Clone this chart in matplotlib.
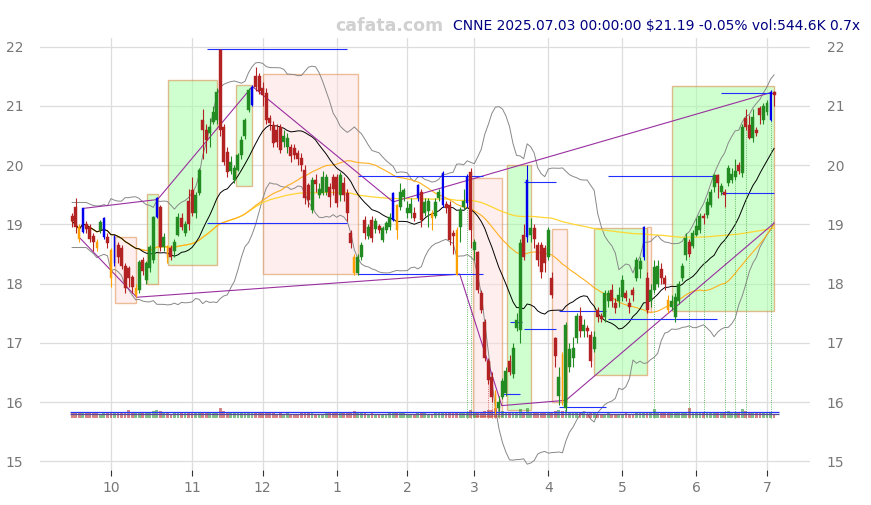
import numpy as np
import pandas as pd
import matplotlib
matplotlib.use("Agg")
import matplotlib.pyplot as plt
from matplotlib.patches import Rectangle

# daily candles, CNNE, 2024-09-16 .. 2025-07-03 (index = trading day)
opens = [19.15, 19.3, 18.95, 18.88, 19.0, 18.95, 18.8, 18.7, 18.9, 18.78,
         18.78, 18.56, 18.35, 18.65, 18.6, 18.3, 18.26, 18.12, 17.8, 17.9,
         18.4, 18.06, 18.26, 18.4, 19.12, 19.3, 18.62, 18.62, 18.6, 18.55,
         18.82, 19.1, 18.85, 19.4, 19.58, 19.2, 19.53, 20.76, 20.6, 20.55,
         20.73, 20.76, 21.95, 20.65, 20.22, 19.9, 19.75, 19.92, 20.17, 20.5,
         20.93, 21.02, 21.5, 21.5, 21.3, 21.22, 20.8, 20.68, 20.6, 20.65,
         20.4, 20.31, 20.3, 20.29, 20.2, 20.12, 19.92, 19.66, 19.24, 19.75,
         19.5, 19.53, 19.55, 19.63, 19.8, 19.8, 19.5, 19.7, 19.53, 18.85,
         18.45, 18.18, 18.45, 19.07, 18.8, 19.07, 18.92, 18.97, 18.73, 18.9,
         18.95, 19.07, 19.32, 19.3, 19.46, 19.19, 19.2, 19.2, 19.44, 19.55,
         19.2, 19.22, 19.2, 19.15, 19.45, 19.32, 19.35, 19.32, 18.85, 18.9,
         18.95, 19.3, 19.36, 19.88, 18.56, 18.53, 17.85, 17.35, 16.7, 16.42,
         16.15, 15.9, 16.08, 16.15, 16.7, 16.48, 17.25, 17.21, 18.82, 18.79,
         18.82, 18.94, 18.65, 18.65, 18.6, 18.45, 18.09, 17.09, 16.1, 16.8,
         15.9, 16.6, 16.74, 17.09, 17.45, 17.2, 17.25, 17.13, 16.9, 17.55,
         17.45, 17.43, 17.7, 17.9, 17.67, 17.7, 17.77, 17.85, 17.68, 17.9,
         18.1, 18.24, 18.45, 18.1, 17.7, 17.9, 18.0, 18.25, 18.1, 17.72,
         17.6, 17.43, 17.7, 18.1, 18.48, 18.7, 18.63, 18.82, 18.9, 19.15,
         19.16, 19.33, 19.63, 19.83, 19.55, 19.55, 19.7, 19.75, 19.8, 20.0,
         19.87, 20.8, 20.68, 20.46, 20.6, 20.97, 20.76, 20.9, 20.76, 21.24]
closes = [19.05, 18.95, 18.75, 19.27, 18.93, 18.75, 18.7, 18.6, 19.04, 19.1,
          18.68, 18.1, 18.8, 18.45, 18.3, 17.92, 18.1, 17.94, 17.92, 18.36,
          18.22, 18.34, 18.62, 19.12, 19.44, 18.62, 18.78, 18.43, 18.45, 18.7,
          19.12, 18.95, 19.0, 19.0, 19.2, 19.5, 19.92, 20.6, 20.43, 20.65,
          20.9, 21.24, 20.6, 20.05, 19.88, 20.05, 19.95, 20.17, 20.43, 20.76,
          21.27, 21.32, 21.32, 21.25, 21.19, 20.76, 20.71, 20.38, 20.4, 20.26,
          20.5, 20.46, 20.15, 20.17, 20.1, 20.0, 19.44, 19.41, 19.75, 19.68,
          19.6, 19.8, 19.8, 19.46, 19.6, 19.36, 19.83, 19.5, 19.19, 18.68,
          18.18, 18.45, 18.65, 18.85, 18.96, 18.77, 19.05, 18.9, 18.94, 19.02,
          19.12, 19.53, 18.9, 19.55, 19.58, 19.27, 19.35, 19.1, 19.66, 19.07,
          19.38, 19.4, 19.1, 19.38, 19.55, 19.87, 19.27, 18.73, 18.8, 18.15,
          19.24, 19.4, 19.8, 18.9, 18.7, 17.9, 17.55, 16.75, 16.37, 16.08,
          15.86, 16.0, 16.36, 16.53, 16.5, 16.92, 17.38, 18.68, 18.45, 19.75,
          18.94, 18.75, 18.4, 18.2, 18.35, 18.9, 17.8, 16.78, 16.42, 16.0,
          17.3, 16.9, 16.92, 17.46, 17.2, 17.3, 17.2, 16.7, 17.1, 17.43,
          17.4, 17.84, 17.85, 17.7, 17.58, 17.8, 18.06, 17.75, 17.6, 17.8,
          18.4, 18.38, 18.95, 17.55, 17.9, 18.28, 18.3, 18.1, 18.0, 17.55,
          17.7, 17.77, 18.0, 18.3, 18.77, 18.5, 18.85, 18.98, 19.15, 19.1,
          19.38, 19.55, 19.83, 19.7, 19.65, 19.5, 19.95, 19.85, 19.9, 19.9,
          20.65, 20.65, 20.46, 20.82, 20.55, 20.85, 21.0, 21.05, 21.24, 21.19]
highs = [19.2, 19.45, 19.0, 19.28, 19.05, 19.0, 18.85, 18.75, 19.08, 19.12,
         18.85, 18.6, 18.82, 18.7, 18.65, 18.35, 18.3, 18.15, 18.0, 18.4,
         18.45, 18.38, 18.65, 19.15, 19.46, 19.32, 18.85, 18.65, 18.65, 18.75,
         19.2, 19.2, 19.05, 19.6, 19.8, 19.55, 19.95, 20.95, 20.7, 20.8,
         21.0, 21.3, 21.97, 20.7, 20.3, 20.15, 20.0, 20.2, 20.5, 20.8,
         21.3, 21.35, 21.65, 21.55, 21.4, 21.3, 20.85, 20.75, 20.7, 20.7,
         20.6, 20.55, 20.35, 20.35, 20.25, 20.2, 20.0, 19.7, 19.8, 19.85,
         19.7, 19.9, 19.85, 19.7, 19.85, 19.85, 19.88, 19.8, 19.6, 18.9,
         18.5, 18.5, 18.7, 19.15, 19.0, 19.15, 19.1, 19.0, 18.98, 19.05,
         19.2, 19.55, 19.35, 19.7, 19.62, 19.4, 19.45, 19.3, 19.68, 19.6,
         19.45, 19.45, 19.25, 19.45, 19.6, 19.9, 19.4, 19.4, 18.9, 18.95,
         19.3, 19.6, 19.85, 19.95, 18.75, 18.55, 17.9, 17.4, 16.75, 16.5,
         16.2, 16.1, 16.4, 16.6, 16.8, 17.0, 17.5, 18.75, 19.0, 20.0,
         19.1, 19.0, 18.7, 18.7, 18.65, 18.95, 18.2, 17.1, 16.6, 16.85,
         17.35, 17.0, 17.1, 17.5, 17.6, 17.4, 17.3, 17.2, 17.2, 17.6,
         17.5, 17.9, 17.9, 18.0, 17.75, 17.95, 18.15, 17.9, 17.75, 17.95,
         18.45, 18.45, 18.97, 18.2, 18.0, 18.4, 18.4, 18.35, 18.15, 17.8,
         17.8, 17.85, 18.05, 18.35, 18.85, 18.75, 18.9, 19.1, 19.2, 19.2,
         19.45, 19.6, 19.85, 19.85, 19.7, 19.6, 20.0, 19.95, 20.1, 20.05,
         20.7, 20.95, 20.85, 20.95, 20.65, 21.0, 21.05, 21.1, 21.27, 21.25]
lows = [18.95, 18.85, 18.7, 18.85, 18.85, 18.7, 18.55, 18.55, 18.85, 18.75,
        18.6, 17.95, 18.3, 18.35, 18.25, 17.85, 17.95, 17.85, 17.78, 17.85,
        18.15, 18.0, 18.2, 18.35, 19.1, 18.55, 18.55, 18.35, 18.4, 18.45,
        18.8, 18.9, 18.8, 18.9, 19.15, 19.1, 19.5, 20.1, 20.2, 20.3,
        20.7, 20.7, 20.5, 20.0, 19.8, 19.85, 19.7, 19.9, 20.1, 20.45,
        20.9, 21.0, 21.25, 21.2, 21.0, 20.7, 20.6, 20.3, 20.3, 20.2,
        20.3, 20.2, 20.05, 20.1, 20.0, 19.9, 19.35, 19.3, 19.2, 19.55,
        19.45, 19.5, 19.5, 19.3, 19.5, 19.3, 19.4, 19.4, 19.05, 18.6,
        18.15, 18.15, 18.4, 18.75, 18.75, 18.7, 18.85, 18.85, 18.7, 18.85,
        18.9, 19.05, 18.75, 19.25, 19.4, 19.1, 19.1, 19.05, 19.4, 18.95,
        19.15, 18.95, 18.9, 19.1, 19.4, 19.3, 19.2, 18.65, 18.5, 18.14,
        18.7, 19.25, 19.3, 18.6, 18.4, 17.85, 17.5, 16.7, 16.3, 16.0,
        15.8, 15.85, 16.05, 16.1, 16.45, 16.4, 17.2, 17.0, 18.4, 18.7,
        18.7, 18.6, 18.3, 18.1, 18.2, 18.4, 17.75, 16.6, 15.95, 15.95,
        15.85, 16.5, 16.6, 17.0, 17.1, 17.1, 17.1, 16.6, 16.85, 17.35,
        17.35, 17.35, 17.6, 17.6, 17.5, 17.6, 17.7, 17.7, 17.5, 17.7,
        18.05, 18.1, 18.4, 17.5, 17.6, 17.85, 17.95, 18.0, 17.9, 17.5,
        17.55, 17.35, 17.65, 18.05, 18.4, 18.45, 18.6, 18.8, 18.85, 19.0,
        19.1, 19.3, 19.55, 19.45, 19.5, 19.3, 19.65, 19.7, 19.75, 19.85,
        19.8, 20.6, 20.45, 20.4, 20.5, 20.7, 20.7, 20.85, 20.75, 21.0]
volumes_k = [820, 760, 900, 700, 650, 720, 800, 680, 640, 900,
             700, 850, 760, 690, 720, 880, 1100, 760, 820, 700,
             650, 720, 900, 1000, 1200, 950, 700, 680, 640, 700,
             760, 680, 650, 720, 800, 760, 880, 940, 700, 660,
             820, 900, 1400, 1000, 860, 720, 680, 700, 740, 800,
             860, 900, 760, 700, 680, 820, 720, 660, 640, 700,
             620, 650, 600, 640, 620, 700, 820, 760, 700, 640,
             620, 600, 650, 680, 700, 720, 650, 700, 820, 900,
             1000, 760, 700, 680, 620, 660, 600, 580, 620, 640,
             660, 800, 720, 700, 680, 620, 640, 600, 760, 820,
             660, 640, 620, 650, 700, 860, 700, 840, 760, 900,
             720, 700, 880, 1100, 800, 900, 880, 1000, 1100, 1200,
             1500, 1700, 1000, 900, 800, 880, 920, 1300, 900, 1400,
             900, 800, 760, 820, 780, 760, 900, 1000, 1100, 1000,
             1200, 860, 800, 780, 700, 660, 640, 700, 680, 640,
             620, 600, 680, 640, 620, 600, 640, 660, 620, 600,
             680, 700, 760, 900, 820, 1300, 760, 720, 700, 680,
             760, 720, 740, 800, 860, 1500, 820, 760, 720, 700,
             760, 800, 840, 880, 760, 720, 1000, 740, 760, 900,
             1300, 1000, 900, 820, 880, 760, 800, 900, 780, 545]

blue_days = [3, 9, 12, 24, 51, 91, 98, 105, 112, 129, 162, 198]
orange_days = [2, 7, 11, 18, 27, 80, 92, 102, 109, 120, 139, 169]
green_dot_days = [112, 113, 165, 175, 179, 185, 188, 191, 198]
red_dot_days = [118, 119, 120, 121]

month_start = [11, 34, 54, 75, 95, 114, 135, 156, 177, 197]
month_labels = ['10', '11', '12', '1', '2', '3', '4', '5', '6', '7']

# (day from, day to, low, high)
up_boxes = [(21.3, 24.2, 18.0, 19.51), (27.2, 41.1, 18.31, 21.44),
            (46.4, 51.1, 19.65, 21.36), (123.2, 130.1, 15.86, 20.0),
            (148.0, 163.1, 16.45, 18.94), (170.1, 199.0, 17.53, 21.34)]
down_boxes = [(12.1, 18.1, 17.67, 18.79), (54.2, 81.1, 18.16, 21.54),
              (113.7, 121.9, 15.77, 19.78), (136.1, 140.2, 16.0, 18.93),
              (162.9, 164.0, 17.52, 18.95)]

# support / resistance segments (day from, day to, price)
levels = [(38.3, 77.9, 21.96), (38.3, 77.9, 19.03),
          (81.0, 116.5, 19.82), (81.0, 116.5, 18.16),
          (128.2, 137.1, 19.72), (124.1, 127.5, 17.36),
          (128.2, 137.1, 17.23), (121.8, 127.0, 16.13),
          (138.0, 151.3, 17.54), (138.0, 151.3, 15.91),
          (151.9, 182.8, 17.41), (151.9, 182.8, 19.82),
          (184.0, 199.0, 19.53), (184.0, 199.0, 21.22)]

# trend lines through swing points
upper_trend_x = [3.1, 24.2, 51.1, 91.0, 198.3]
upper_trend_y = [19.27, 19.42, 21.33, 19.38, 21.23]
lower_trend_x = [2.2, 18.3, 109.9, 121.8, 140.0, 199.0]
lower_trend_y = [18.77, 17.77, 18.16, 15.94, 16.03, 19.02]

df = pd.DataFrame({'o': opens, 'h': highs, 'l': lows, 'c': closes, 'v': volumes_k})
n = len(df)
x = np.arange(n)
ma20 = df.c.rolling(20, min_periods=1).mean()
ma50 = df.c.rolling(50, min_periods=1).mean()
ma200 = df.c.rolling(200, min_periods=1).mean()
sd20 = df.c.rolling(20, min_periods=5).std().bfill()
bb_mid = df.c.rolling(20, min_periods=5).mean().bfill()
bb_up = bb_mid + 2 * sd20
bb_lo = bb_mid - 2 * sd20

fig = plt.figure(figsize=(8.71, 5.05), dpi=100)
ax = fig.add_axes([0.046, 0.069, 0.884, 0.856])

GREEN = '#228b22'
RED = '#b22222'

for a, b, lo, hi in up_boxes:
    ax.add_patch(Rectangle((a, lo), b - a, hi - lo, facecolor='#a8ffa8', alpha=0.55,
                           edgecolor='#d9843c', lw=1.0, zorder=1))
for a, b, lo, hi in down_boxes:
    ax.add_patch(Rectangle((a, lo), b - a, hi - lo, facecolor='#ffdede', alpha=0.5,
                           edgecolor='#d9843c', lw=1.0, zorder=1))

ax.plot(x, bb_up, color='#888888', lw=0.7, zorder=2)
ax.plot(x, bb_lo, color='#888888', lw=0.7, zorder=2)
ax.plot(x, ma200, color='#ffd633', lw=0.9, zorder=2)
ax.plot(x, ma50, color='#ffb020', lw=0.8, zorder=2)
ax.plot(x, ma20, color='black', lw=0.7, zorder=2)

ax.plot(upper_trend_x, upper_trend_y, color='#9a2fa0', lw=0.8, zorder=3)
ax.plot(lower_trend_x, lower_trend_y, color='#9a2fa0', lw=0.8, zorder=3)

for a, b, p in levels:
    ax.hlines(p, a, b, color='#1f2fff', lw=0.8, zorder=3)

# volume strip
vbase = 15.735
vscale = 0.19 / max(volumes_k)
vcol = [GREEN if c >= o else RED for o, c in zip(opens, closes)]
ax.bar(x, df.v * vscale, bottom=vbase, width=0.8, color=vcol, alpha=0.55, zorder=2,
       linewidth=0)
ax.hlines(15.84, -0.5, n + 0.5, color='#2233ff', lw=0.9, zorder=3)
ax.hlines(15.805, -0.5, n + 0.5, color='#5a4a9a', lw=0.9, zorder=3)

for d in green_dot_days:
    ax.vlines(d, vbase, lows[d], color='#3aa63a', lw=0.6, linestyles=':', zorder=2)
for d in red_dot_days:
    ax.vlines(d, vbase, lows[d], color='#d04444', lw=0.6, linestyles=':', zorder=2)

# candles
body_col = []
for i in range(n):
    if i in blue_days:
        body_col.append('#0000ee')
    elif i in orange_days:
        body_col.append('#ffa000')
    elif closes[i] >= opens[i]:
        body_col.append(GREEN)
    else:
        body_col.append(RED)
ax.vlines(x, df.l, df.h, color=body_col, lw=0.8, zorder=4)
body_h = np.maximum((df.c - df.o).abs(), 0.03)
body_w = [0.5 if (i in blue_days or i in orange_days) else 0.85 for i in range(n)]
ax.bar(x, body_h, bottom=np.minimum(df.o, df.c), width=body_w, color=body_col,
       edgecolor=body_col, linewidth=0.3, zorder=5)

ax.set_xlim(-9.1, 209.2)
ax.set_ylim(14.85, 22.15)
ax.set_xticks(month_start)
ax.set_xticklabels(month_labels)
ax.set_yticks(range(15, 23))
ax.grid(True, color='#dddddd', lw=0.9, zorder=0)
ax.set_axisbelow(True)
for s in ax.spines.values():
    s.set_visible(False)
ax.tick_params(axis='y', labelleft=True, labelright=True, length=0, labelsize=10,
               labelcolor='#777777', pad=12)
ax.tick_params(axis='x', length=4, color='#333333', labelsize=10, labelcolor='#777777')

fig.text(0.987, 0.9485, 'CNNE 2025.07.03 00:00:00 $21.19 -0.05% vol:544.6K 0.7x',
         ha='right', va='center', color='#000080', fontsize=10)
fig.text(0.4466, 0.9485, 'cafata.com', ha='center', va='center', color='#d0d0d0',
         fontsize=12.5, fontweight='bold')

fig.savefig('out.png', dpi=100)
